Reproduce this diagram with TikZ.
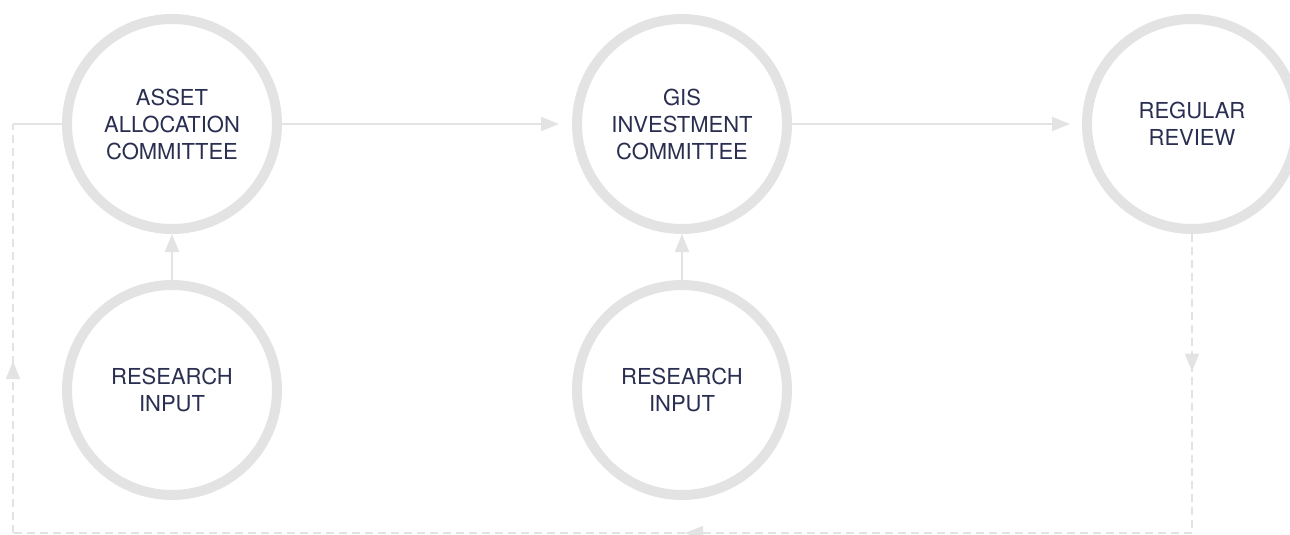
\documentclass[tikz,border=0pt]{standalone}
\usepackage{fontspec}
\setmainfont{TeX Gyre Heros}
\usetikzlibrary{arrows.meta,positioning,calc,decorations.markings}
\definecolor{ringgray}{RGB}{227,227,227}
\definecolor{textnavy}{RGB}{42,46,80}
\tikzset{>={Triangle[length=18pt,width=14pt]}}
\tikzset{
  stage/.style={circle, draw=ringgray, line width=10pt, minimum size=210pt,
    inner sep=0pt, text=textnavy, align=center,
    font=\fontsize{22}{27}\selectfont},
  flow/.style={color=ringgray, line width=2pt},
  loopline/.style={flow, dash pattern=on 8pt off 5pt},
  midarrow/.style={postaction={decorate},
    decoration={markings, mark=at position #1 with {\arrow{>}}}}
}

\begin{document}
\begin{tikzpicture}[x=1pt, y=-1pt]
  \useasboundingbox (0,0) rectangle (1290,535);
  % Spacing of the columns and rows
  \def\colgap{510}
  \def\rowgap{266}
  \coordinate (A) at (172,124);

  % Committees and review
  \node[stage] (asset) at (A) {ASSET\\ALLOCATION\\COMMITTEE};
  \node[stage] (gis) at ($(A)+(\colgap,0)$) {GIS\\INVESTMENT\\COMMITTEE};
  \node[stage] (review) at ($(A)+(2*\colgap,0)$) {REGULAR\\REVIEW};

  % Research inputs
  \node[stage] (resasset) at ($(A)+(0,\rowgap)$) {RESEARCH\\INPUT};
  \node[stage] (resgis) at ($(A)+(\colgap,\rowgap)$) {RESEARCH\\INPUT};

  % Main flow
  \draw[flow, ->, shorten >=13pt] (asset) -- (gis);
  \draw[flow, ->, shorten >=12pt] (gis) -- (review);
  \draw[flow, ->] (resasset) -- (asset);
  \draw[flow, ->] (resgis) -- (gis);

  % Feedback loop
  \coordinate (br) at (review.south |- 0,533);
  \coordinate (bl) at (13,533);
  \coordinate (tl) at (13,124);
  \draw[loopline, midarrow=0.46] (review.south) -- (br);
  \draw[loopline, midarrow=0.43] (br) -- (bl);
  \draw[loopline, midarrow=0.42] (bl) -- (tl);
  \draw[flow] (tl) -- (asset.west);
\end{tikzpicture}
\end{document}
